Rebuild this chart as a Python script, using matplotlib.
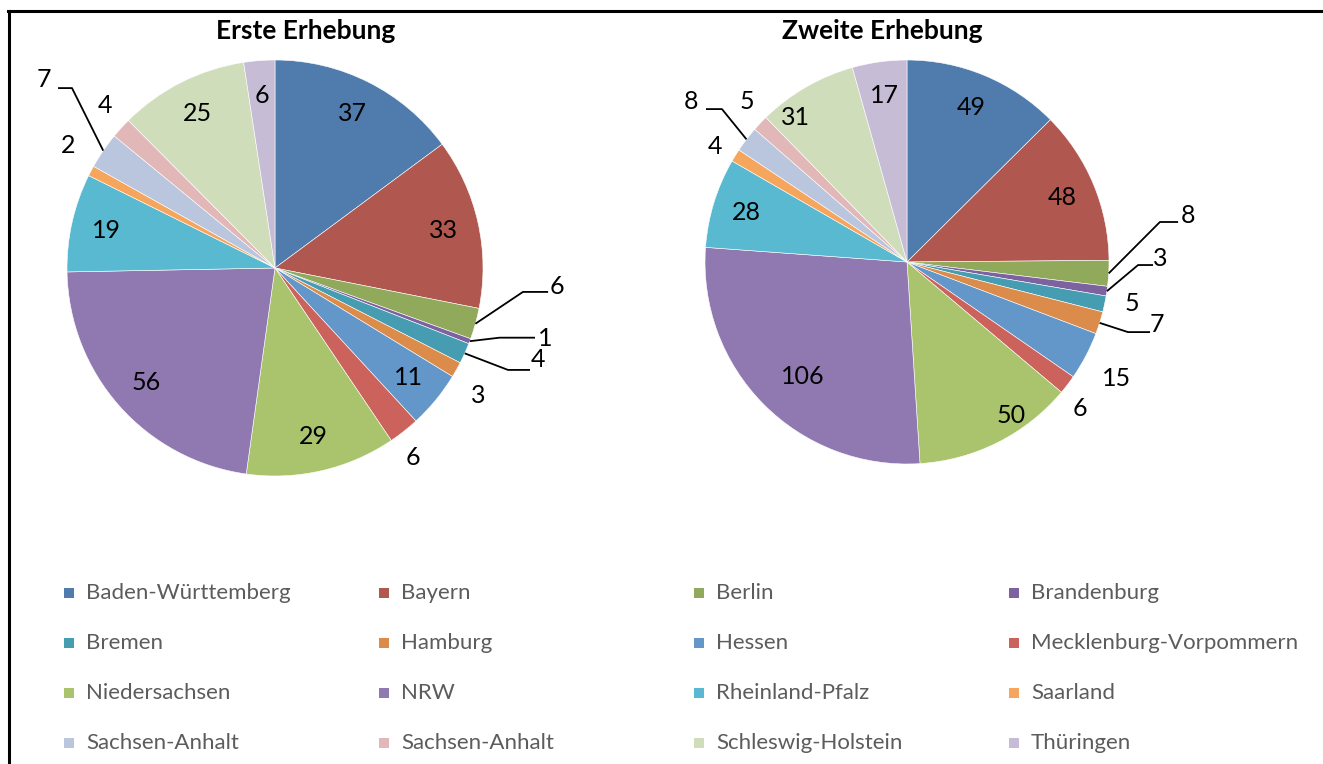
import numpy as np
import matplotlib
matplotlib.use('Agg')
import matplotlib.pyplot as plt
from matplotlib.patches import Rectangle
from matplotlib.lines import Line2D

#------------------------------------------- data -------------------------------------------
states = ['Baden-Württemberg', 'Bayern', 'Berlin', 'Brandenburg',
          'Bremen', 'Hamburg', 'Hessen', 'Mecklenburg-Vorpommern',
          'Niedersachsen', 'NRW', 'Rheinland-Pfalz', 'Saarland',
          'Sachsen-Anhalt', 'Sachsen-Anhalt', 'Schleswig-Holstein', 'Thüringen']
erste = [37, 33, 6, 1, 4, 3, 11, 6, 29, 56, 19, 2, 7, 4, 25, 6]
zweite = [49, 48, 8, 3, 5, 7, 15, 6, 50, 106, 28, 4, 8, 5, 31, 17]
titles = ['Erste Erhebung', 'Zweite Erhebung']

colors = ['#4F7CAC', '#B0574F', '#91A95B', '#7D62A0',
          '#469DB2', '#DB8B4A', '#6396C9', '#CC625C',
          '#AAC46D', '#9079B0', '#58B9D1', '#F6A55D',
          '#B9C6DE', '#E1B8B7', '#D0DDBB', '#C6BCD6']

#------------------------------------------- label placement (units of pie radius) ----------
# text positions for labels that Excel moved away from the default spot
label_pos = [
    {2: (1.356, -0.091), 3: (1.298, -0.341), 4: (1.264, -0.442), 5: (0.976, -0.615),
     7: (0.663, -0.909), 11: (-0.995, 0.587), 12: (-1.111, 0.904), 13: (-0.817, 0.779)},
    {2: (1.391, 0.228), 3: (1.252, 0.015), 4: (1.114, -0.203), 5: (1.238, -0.307),
     6: (1.035, -0.579), 7: (0.856, -0.723), 8: (0.515, -0.762), 9: (-0.515, -0.569),
     11: (-0.950, 0.574), 12: (-1.069, 0.797), 13: (-0.792, 0.797), 14: (-0.55, 0.715)},
]
# leader lines: elbow point and end point
leaders = [
    {2: ((1.192, -0.115), (1.313, -0.115)), 3: ((1.08, -0.335), (1.25, -0.335)),
     4: ((1.12, -0.49), (1.226, -0.49)), 12: ((-0.976, 0.865), (-1.043, 0.865))},
    {2: ((1.252, 0.198), (1.342, 0.198)), 3: ((1.144, -0.015), (1.218, -0.015)),
     5: ((1.094, -0.347), (1.203, -0.347)), 12: ((-0.916, 0.757), (-0.995, 0.757))},
]

W, H = 1323, 764
fig = plt.figure(figsize=(W / 100, H / 100), dpi=100)
fig.patch.set_facecolor('white')

def pie_axes(cx, cy, r, half=1.45):
    # place an axes so that one data unit equals r pixels, centred on (cx, cy)
    ax = fig.add_axes([(cx - half * r) / W, 1 - (cy + half * r) / H,
                       2 * half * r / W, 2 * half * r / H])
    return ax

centers = [(275, 268, 208), (907, 262, 202)]
title_x = [306, 882]

for k, vals in enumerate([erste, zweite]):
    cx, cy, r = centers[k]
    ax = pie_axes(cx, cy, r)
    wedges, _ = ax.pie(vals, colors=colors, startangle=90, counterclock=False,
                       radius=1.0, wedgeprops=dict(edgecolor='white', linewidth=0.4))
    ax.set_xlim(-1.45, 1.45)
    ax.set_ylim(-1.45, 1.45)
    ax.axis('off')

    for i, w in enumerate(wedges):
        ang = np.deg2rad((w.theta1 + w.theta2) / 2)
        if i in label_pos[k]:
            tx, ty = label_pos[k][i]
        else:
            tx, ty = 0.83 * np.cos(ang), 0.83 * np.sin(ang)
        ax.text(tx, ty, str(vals[i]), ha='center', va='center', fontsize=18,
                family=['Lato', 'DejaVu Sans'], color='black')
        if i in leaders[k]:
            (ex, ey), (fx, fy) = leaders[k][i]
            sx, sy = np.cos(ang), np.sin(ang)
            ax.plot([sx, ex, fx], [sy, ey, fy], color='black', lw=1.3,
                    solid_capstyle='butt', clip_on=False)

    fig.text(title_x[k] / W, 1 - 31 / H, titles[k], ha='center', va='center',
             fontsize=19, fontweight='bold', family=['Lato', 'DejaVu Sans'])

# legend, 4 columns
for i, name in enumerate(states):
    row, col = divmod(i, 4)
    x0 = 64 + col * 315
    y0 = 593 + row * 50
    fig.patches.append(Rectangle((x0 / W, 1 - (y0 + 5) / H), 10 / W, 10 / H,
                                 transform=fig.transFigure, facecolor=colors[i],
                                 edgecolor='none'))
    fig.text((x0 + 22) / W, 1 - y0 / H, name, ha='left', va='center', fontsize=16,
             family=['Lato', 'DejaVu Sans'], color='#5c5c5c')

# frame lines (top and left)
fig.add_artist(Line2D([8 / W, 1.0], [1 - 10.5 / H, 1 - 10.5 / H], color='black', lw=2.2,
                      transform=fig.transFigure))
fig.add_artist(Line2D([9 / W, 9 / W], [1 - 10.5 / H, 0.0], color='black', lw=2.2,
                      transform=fig.transFigure))

fig.savefig('out.png', dpi=100)
